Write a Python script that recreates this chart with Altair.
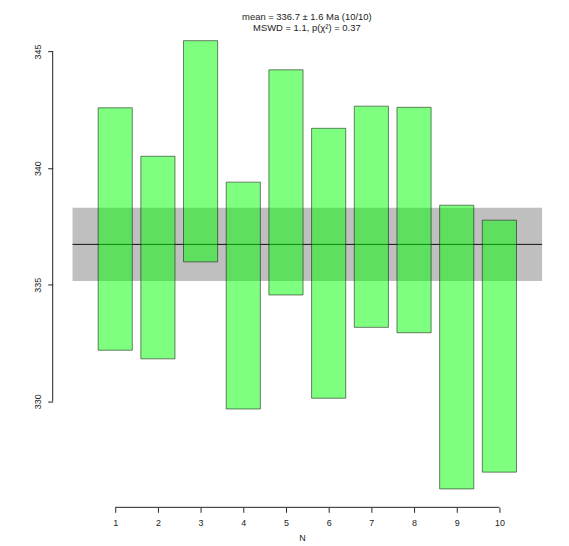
import altair as alt
import pandas as pd

# ---- data ----
n_labels = [1, 2, 3, 4, 5, 6, 7, 8, 9, 10]
lows = [332.19, 331.82, 335.98, 329.67, 334.56, 330.13, 333.17, 332.94, 326.24, 326.96]
highs = [342.59, 340.51, 345.47, 339.40, 344.22, 341.71, 342.66, 342.61, 338.41, 337.77]
mean_val = 336.73
band_low = 335.16
band_high = 338.30
band_x = [0, 11]
y_ticks = [330, 335, 340, 345]
title_lines = ["mean = 336.7 \u00b1 1.6 Ma (10/10)", "MSWD = 1.1, p(\u03c7\u00b2) = 0.37"]

X_DOMAIN = [-0.465, 11.21]
Y_DOMAIN = [325.45, 345.83]
HALF = 0.4
FONT = "Liberation Sans"

bars = pd.DataFrame({
    "n": n_labels,
    "x0": [v - HALF for v in n_labels],
    "x1": [v + HALF for v in n_labels],
    "lo": lows,
    "hi": highs,
})
band = pd.DataFrame({"x0": [band_x[0]], "x1": [band_x[1]],
                     "lo": [band_low], "hi": [band_high], "m": [mean_val]})
xaxis_line = pd.DataFrame({"x0": [n_labels[0]], "x1": [n_labels[-1]], "y": [Y_DOMAIN[0]]})
yaxis_line = pd.DataFrame({"x": [X_DOMAIN[0]], "y0": [y_ticks[0]], "y1": [y_ticks[-1]]})

xs = alt.Scale(domain=X_DOMAIN, nice=False, zero=False)
ys = alt.Scale(domain=Y_DOMAIN, nice=False, zero=False)

x_axis = alt.Axis(values=n_labels, tickSize=5, domain=False, grid=False,
                  labelFont=FONT, labelFontSize=9, labelColor="#222",
                  labelPadding=6, tickColor="#222", labelFlush=False,
                  title="N", titleFont=FONT, titleFontSize=9,
                  titleFontWeight="normal", titleColor="#222", titlePadding=6)
y_axis = alt.Axis(values=y_ticks, tickSize=5, domain=False, grid=False,
                  labelFont=FONT, labelFontSize=9, labelColor="#222",
                  labelAngle=270, labelPadding=5, tickColor="#222",
                  labelFlush=False, title=None)

band_rect = alt.Chart(band).mark_rect(color="#000000", opacity=0.25).encode(
    x=alt.X("x0:Q", scale=xs, axis=x_axis),
    x2="x1:Q",
    y=alt.Y("lo:Q", scale=ys, axis=y_axis),
    y2="hi:Q",
)
mean_rule = alt.Chart(band).mark_rule(color="#111", strokeWidth=1).encode(
    x=alt.X("x0:Q", scale=xs), x2="x1:Q", y=alt.Y("m:Q", scale=ys)
)
bar_rects = alt.Chart(bars).mark_rect(
    fill="#00ff00", fillOpacity=0.5, stroke="#000000", strokeOpacity=0.5, strokeWidth=1
).encode(
    x=alt.X("x0:Q", scale=xs), x2="x1:Q",
    y=alt.Y("lo:Q", scale=ys), y2="hi:Q",
)
x_line = alt.Chart(xaxis_line).mark_rule(color="#222", strokeWidth=1, clip=False).encode(
    x=alt.X("x0:Q", scale=xs), x2="x1:Q", y=alt.Y("y:Q", scale=ys)
)
y_line = alt.Chart(yaxis_line).mark_rule(color="#222", strokeWidth=1, clip=False).encode(
    x=alt.X("x:Q", scale=xs), y=alt.Y("y0:Q", scale=ys), y2="y1:Q"
)

chart = alt.layer(band_rect, mean_rule, bar_rects, x_line, y_line).properties(
    width=502,
    height=478.5,
    title=alt.TitleParams(title_lines, font=FONT, fontSize=9.5, fontWeight="normal",
                          color="#222", anchor="middle", offset=0, lineHeight=10.5, dx=5),
    autosize=alt.AutoSizeParams(type="none"),
    padding={"left": 45, "top": 22.5, "right": 10, "bottom": 36},
).configure_view(stroke=None)

chart.save("out.html", embed_options={"renderer": "svg", "actions": False})
